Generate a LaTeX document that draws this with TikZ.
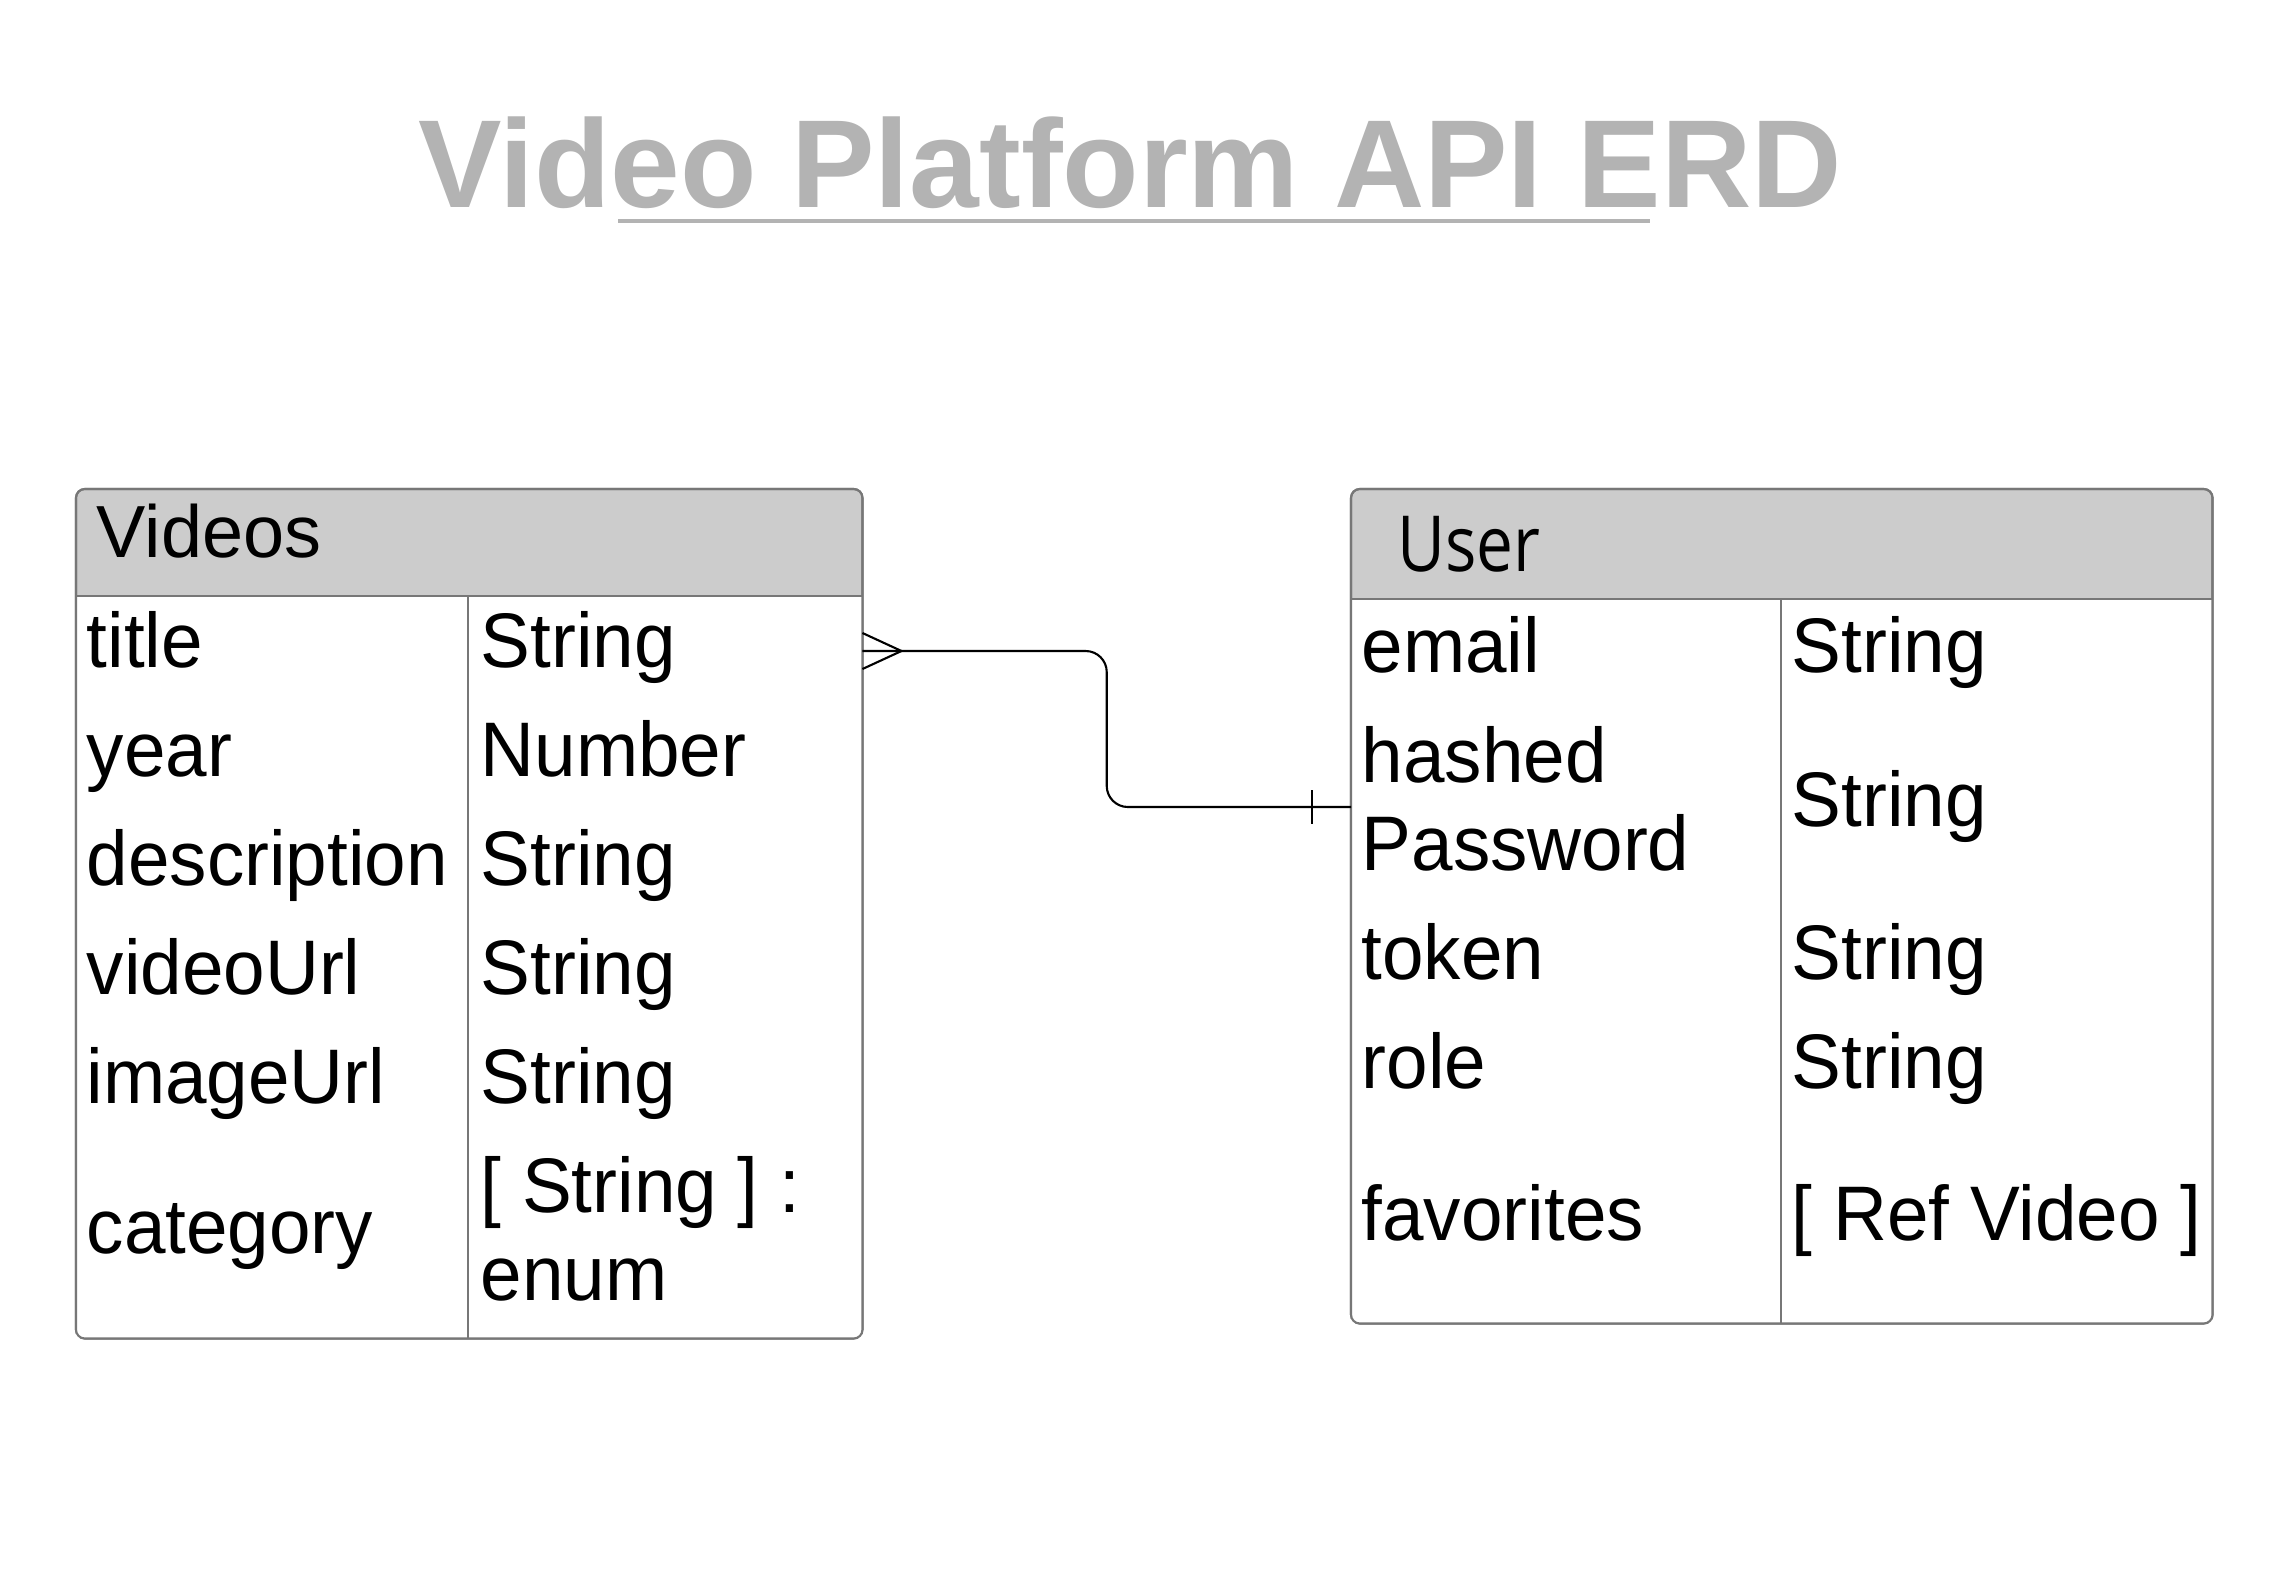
\documentclass[tikz,border=0pt]{standalone}
\usepackage{fontspec}
\setmainfont{Liberation Sans}
\newfontfamily\fieldfont{Liberation Sans}[FakeStretch=0.965]
\newfontfamily\userfont{Open Sans}[FakeStretch=0.85]
\usetikzlibrary{calc}
\definecolor{hdrgray}{HTML}{CCCCCC}
\definecolor{framegray}{HTML}{777777}
\definecolor{titlegray}{HTML}{B3B3B3}

\begin{document}
\begin{tikzpicture}[x=0.01cm, y=-0.01cm,
  entity/.style={draw=framegray, line width=0.6pt, rounded corners=2.5pt, fill=hdrgray,
    anchor=north west, inner sep=0pt, outer sep=0pt},
  head/.style={anchor=base west, inner sep=0pt, font=\fontsize{21}{24}\selectfont},
  field/.style={anchor=base west, inner sep=0pt, align=left,
    font=\fieldfont\fontsize{22}{25}\selectfont},
  rule/.style={draw=framegray, line width=0.6pt},
  link/.style={line width=0.6pt}]

  \useasboundingbox (0,0) rectangle (2280,1594);

  %% title
  \node[anchor=base, inner sep=0pt, text=titlegray,
    font=\bfseries\fontsize{35.6}{40}\selectfont] (ttl) at (1130,208) {Video Platform API ERD};
  \draw[titlegray, line width=0.9pt] (618,221) -- (1650,221);

  %% Videos table
  \node[entity, minimum width=7.86cm, minimum height=8.49cm] (videos) at (76,489) {};
  \fill[white] (76,596) rectangle (862,1338);
  \draw[rule, rounded corners=2.5pt] (videos.north west) rectangle (videos.south east);
  \draw[rule] (76,596) -- (862,596);
  \draw[rule] (468,596) -- (468,1338);
  \node[head] (vhead) at (96,557) {Videos};

  \node[field] (vtitle) at (86,667) {title};
  \node[field] (vtitlet) at (480,667) {String};
  \node[field] (vyear) at (86,776) {year};
  \node[field] (vyeart) at (480,776) {Number};
  \node[field] (vdesc) at (86,885) {description};
  \node[field] (vdesct) at (480,885) {String};
  \node[field] (vvid) at (86,994) {videoUrl};
  \node[field] (vvidt) at (480,994) {String};
  \node[field] (vimg) at (86,1103) {imageUrl};
  \node[field] (vimgt) at (480,1103) {String};
  \node[field] (vcat) at (86,1253) {category};
  \node[field] (vcatt) at (480,1300) {[ String ] :\\enum}; % baseline of last line

  %% User table
  \node[entity, minimum width=8.61cm, minimum height=8.34cm] (user) at (1351,489) {};
  \fill[white] (1351,599) rectangle (2212,1323);
  \draw[rule, rounded corners=2.5pt] (user.north west) rectangle (user.south east);
  \draw[rule] (1351,599) -- (2212,599);
  \draw[rule] (1781,599) -- (1781,1323);
  \node[head, font=\userfont\fontsize{22}{26}\selectfont] (uhead) at (1397,571) {User};

  \node[field] (uemail) at (1361,672) {email};
  \node[field] (uemailt) at (1791,672) {String};
  \node[field] (upass) at (1361,870) {hashed\\Password};
  \node[field] (upasst) at (1791,826) {String};
  \node[field] (utok) at (1361,979) {token};
  \node[field] (utokt) at (1791,979) {String};
  \node[field] (urole) at (1361,1088) {role};
  \node[field] (urolet) at (1791,1088) {String};
  \node[field] (ufav) at (1361,1240) {favorites};
  \node[field] (ufavt) at (1791,1240) {[ Ref Video ]};

  %% many videos -- one user
  \coordinate (vlink) at ($(videos.north east)+(0,162)$);
  \coordinate (ulink) at ($(user.north west)+(0,318)$);
  \draw[link, rounded corners=6pt] (vlink) -| ($(vlink)!0.5!(ulink)$) |- (ulink);
  \draw[link] ($(vlink)+(0,-18)$) -- ($(vlink)+(39,0)$) -- ($(vlink)+(0,18)$); % crow foot
  \draw[link] ($(ulink)+(-39,-17)$) -- ($(ulink)+(-39,17)$); % one

\end{tikzpicture}
\end{document}
